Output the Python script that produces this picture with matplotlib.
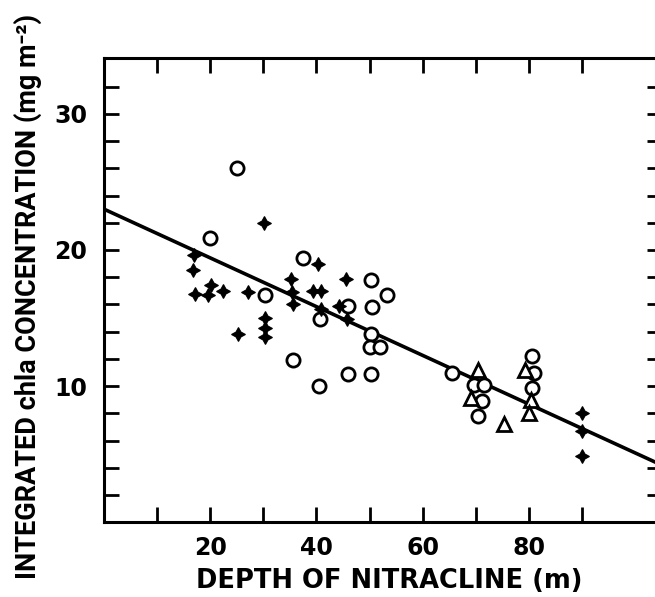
import matplotlib
matplotlib.use("Agg")
import matplotlib.pyplot as plt
from matplotlib.ticker import FixedLocator, FuncFormatter

plt.rcParams['font.family'] = ['DejaVu Sans']
plt.rcParams['font.weight'] = 'bold'

# ---- data ----
circle_x = [20.0, 25.1, 30.3, 37.5, 35.5, 40.6, 40.4, 45.9, 45.9, 50.3, 50.5, 50.3,
            50.0, 52.0, 50.3, 53.3, 65.5, 69.6, 71.6, 71.2, 70.4, 80.6, 80.9, 80.6]
circle_y = [20.9, 26.0, 16.7, 19.4, 11.9, 14.9, 10.0, 15.9, 10.9, 17.8, 15.8, 13.8,
            12.9, 12.9, 10.9, 16.7, 11.0, 10.1, 10.1, 8.9, 7.8, 12.2, 11.0, 9.9]

plus_x = [17.0, 16.7, 17.2, 19.5, 20.2, 22.4, 27.2, 25.2, 30.2, 30.3, 30.3, 30.3,
          35.2, 35.4, 35.6, 40.3, 39.3, 40.9, 40.9, 45.6, 44.3, 45.7, 90.1, 90.0, 90.1]
plus_y = [19.6, 18.5, 16.8, 16.7, 17.4, 17.0, 16.9, 13.8, 22.0, 15.0, 14.3, 13.6,
          17.9, 16.9, 16.0, 19.0, 17.0, 17.0, 15.7, 17.9, 15.9, 14.9, 8.0, 6.7, 4.9]

tri_x = [70.4, 69.1, 75.3, 79.2, 80.4, 80.1]
tri_y = [11.2, 9.1, 7.2, 11.2, 9.0, 8.0]

# regression line  y = a + b x
fit_intercept = 23.0
fit_slope = -0.179
fit_x = [0, 105]

x_ticks = [10, 20, 30, 40, 50, 60, 70, 80, 90]
x_labels = [20, 40, 60, 80]
y_ticks = [2, 4, 6, 8, 10, 12, 14, 16, 18, 20, 22, 24, 26, 28, 30, 32]
y_labels = [10, 20, 30]

xlabel = "DEPTH OF NITRACLINE (m)"
ylabel = "INTEGRATED chla CONCENTRATION (mg m⁻²)"

# ---- figure ----
fig = plt.figure(figsize=(6.55, 5.97), dpi=100)
ax = fig.add_axes([104 / 655, (597 - 522.3) / 597, 557.6 / 655, 464.3 / 597])
ax.set_xlim(0, 105)
ax.set_ylim(0, 34.1)

fit_y = [fit_intercept + fit_slope * v for v in fit_x]
ax.plot(fit_x, fit_y, color='black', lw=2.6, zorder=2)

ax.plot(circle_x, circle_y, linestyle='none', marker='o', ms=9.5, mfc='white',
        mec='black', mew=2.0, zorder=3)
ax.plot(tri_x, tri_y, linestyle='none', marker='^', ms=9.5, mfc='white',
        mec='black', mew=2.0, zorder=3)
ax.plot(plus_x, plus_y, linestyle='none', marker=(4, 1, 0), ms=10, mfc='black',
        mec='black', mew=0.8, zorder=4)

for s in ax.spines.values():
    s.set_linewidth(2.2)

ax.xaxis.set_major_locator(FixedLocator(x_ticks))
ax.yaxis.set_major_locator(FixedLocator(y_ticks))
ax.xaxis.set_major_formatter(FuncFormatter(lambda v, p: f"{int(v)}" if int(round(v)) in x_labels else ""))
ax.yaxis.set_major_formatter(FuncFormatter(lambda v, p: f"{int(v)}" if int(round(v)) in y_labels else ""))
ax.tick_params(axis='both', which='major', direction='in', length=11, width=2.0,
               top=True, right=True, labelsize=17)
ax.tick_params(axis='x', pad=10)
ax.tick_params(axis='y', pad=12)
for lab in ax.get_xticklabels() + ax.get_yticklabels():
    lab.set_fontweight('bold')

ax.set_xlabel(xlabel, fontsize=18.5, fontweight='bold')
ax.xaxis.set_label_coords(0.511, -0.127)
ax.xaxis.label.set_va('center')
ax.set_ylabel(ylabel, fontsize=19.5, fontweight='bold', family=['Roboto', 'DejaVu Sans'])
ax.yaxis.set_label_coords(-0.136, 0.487)
ax.yaxis.label.set_va('center')

fig.savefig("out.png", dpi=100)
